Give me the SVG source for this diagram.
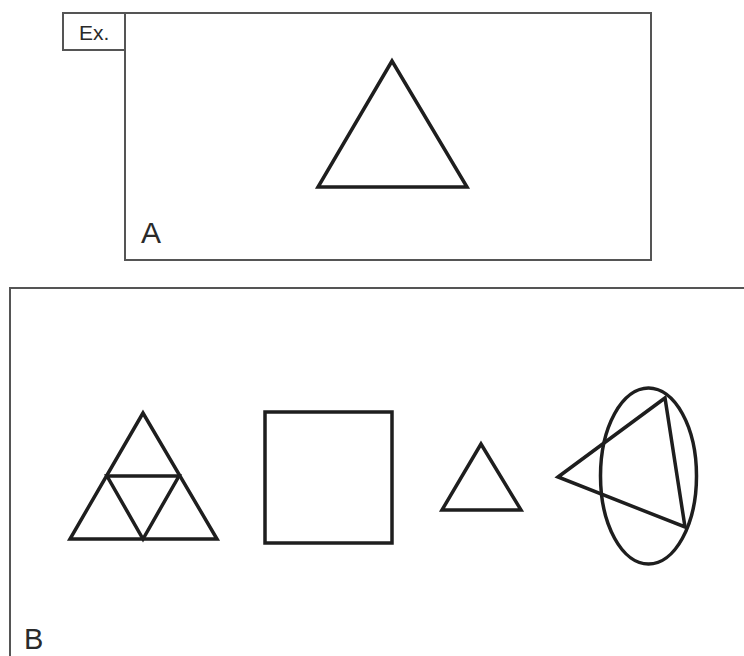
<svg xmlns="http://www.w3.org/2000/svg" width="744" height="656" viewBox="0 0 744 656">
<style>
.frame{fill:none;stroke:#555;stroke-width:2}
.shape{fill:none;stroke:#1e1e1e;stroke-width:3.5;stroke-linejoin:miter}
.lbl{font-family:"Liberation Sans",Arial,sans-serif;fill:#2a2a2a}
</style>
<rect width="744" height="656" fill="#fff"/>
<g id="boxA">
<rect class="frame" x="125" y="13" width="526" height="247"/>
<text class="lbl" x="141" y="243" font-size="30">A</text>
</g>
<g id="exLabel">
<rect class="frame" x="63" y="13" width="62" height="37" fill="#fff"/>
<text class="lbl" x="79" y="40" font-size="21">Ex.</text>
</g>
<g id="triangleA">
<polygon class="shape" points="392,61 318,187 467,187"/>
</g>
<g id="boxB">
<polyline class="frame" points="746,288 10,288 10,660"/>
<text class="lbl" x="24" y="649" font-size="29">B</text>
</g>
<g id="figure1">
<polygon class="shape" points="143,413 70,539 217,539"/>
<polygon class="shape" points="107,476 179,476 143,539"/>
</g>
<g id="figure2">
<rect class="shape" x="265" y="412" width="127" height="131"/>
</g>
<g id="figure3">
<polygon class="shape" points="481,444 442,510 521,510"/>
</g>
<g id="figure4">
<ellipse class="shape" cx="648.5" cy="476" rx="48" ry="88"/>
<polygon class="shape" points="558,477 665,398 685,527"/>
</g>
</svg>
